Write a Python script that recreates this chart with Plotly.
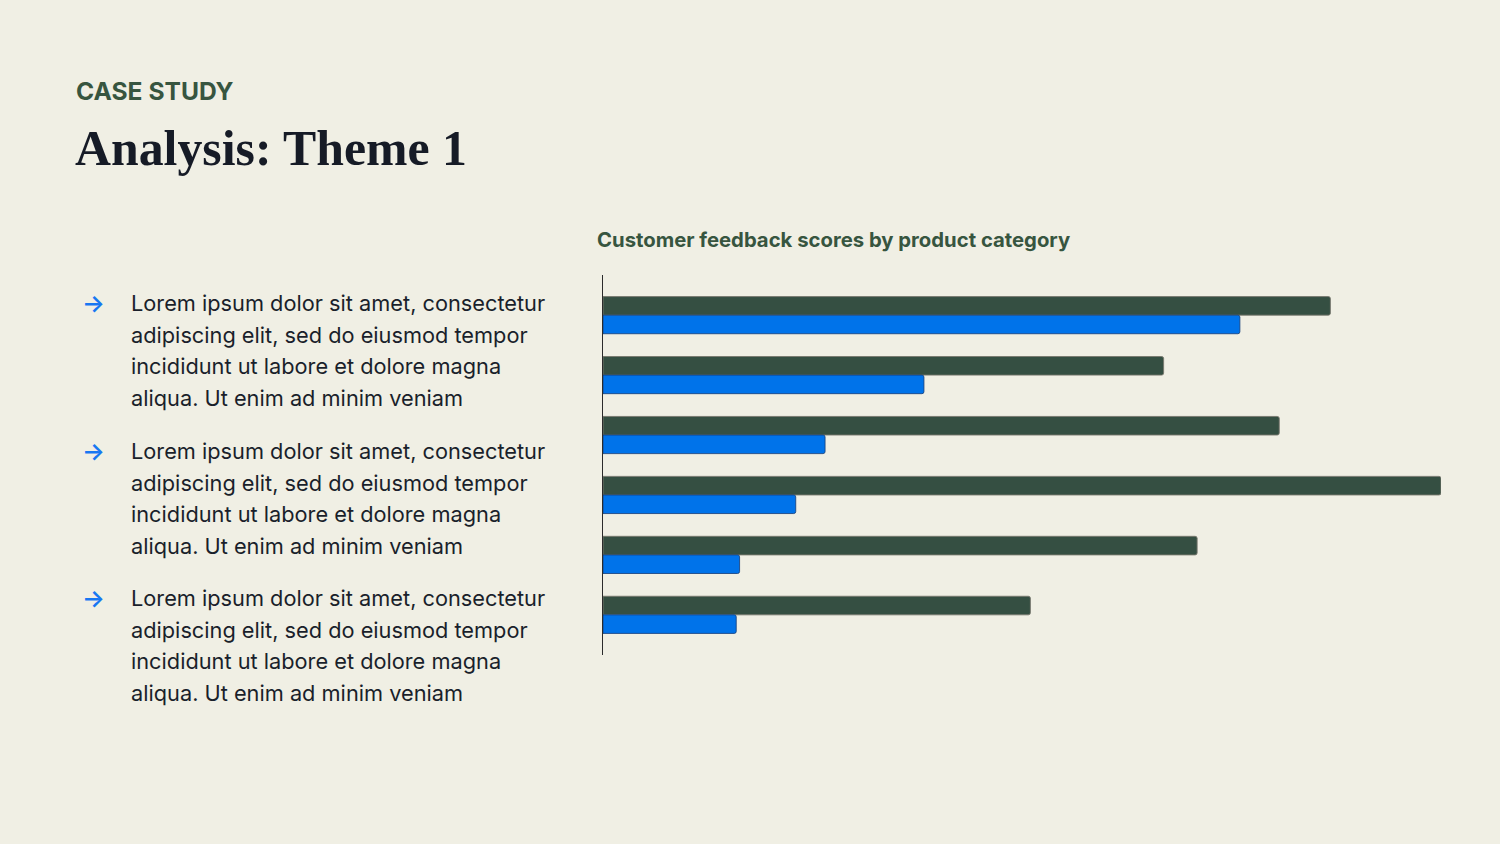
import plotly.graph_objects as go

categories = ["Category A", "Category B", "Category C", "Category D", "Category E", "Category F"]
series_dark = [86.8, 66.9, 80.7, 100.0, 70.9, 51.0]
series_blue = [76.0, 38.3, 26.5, 23.0, 16.3, 15.9]

eyebrow = "CASE STUDY"
title = "Analysis: Theme 1"
chart_title = "Customer feedback scores by product category"
bullet_lines = [
    "Lorem ipsum dolor sit amet, consectetur",
    "adipiscing elit, sed do eiusmod tempor",
    "incididunt ut labore et dolore magna",
    "aliqua. Ut enim ad minim veniam",
]

BG = "#F0EFE4"
DARK = "#354F42"
BLUE = "#0073EA"
W, H = 1500, 844

fig = go.Figure()
fig.add_trace(go.Bar(
    y=categories, x=series_dark, orientation="h", name="Series 1",
    marker=dict(color=DARK, line=dict(color="rgba(120,120,110,0.9)", width=1), cornerradius=2),
))
fig.add_trace(go.Bar(
    y=categories, x=series_blue, orientation="h", name="Series 2",
    marker=dict(color=BLUE, line=dict(color="rgba(20,60,120,0.8)", width=1), cornerradius=2),
))

def px_x(p):
    return p / W

def px_y(p):
    return 1 - p / H

def note(x, y, text, font):
    return dict(x=px_x(x), y=px_y(y), xref="paper", yref="paper", text=text, showarrow=False,
                xanchor="left", yanchor="middle", font=font)

annotations = []
annotations.append(note(74, 91, eyebrow, dict(family="Inter", size=24.6, color="#37553F", weight=700)))
annotations.append(note(73, 148, title, dict(family="Liberation Serif", size=49.8, color="#161B26", weight=700)))
annotations.append(note(595, 239, chart_title, dict(family="Inter", size=20.3, color="#37553F", weight=700)))

para_tops = [303, 451, 598]
line_step = 31.5
for top in para_tops:
    annotations.append(note(80, top, "→", dict(family="Inter", size=24, color="#1877F2", weight=600)))
    for i, line in enumerate(bullet_lines):
        annotations.append(note(129, top + i * line_step, line,
                                dict(family="Inter", size=21.75, color="#1A1F2B")))

fig.update_layout(
    width=W, height=H,
    margin=dict(l=0, r=0, t=0, b=0),
    paper_bgcolor=BG, plot_bgcolor=BG,
    showlegend=False,
    barmode="group", bargap=0.38, bargroupgap=0.0,
    annotations=annotations,
    xaxis=dict(domain=[603 / W, 1441 / W], range=[0, 100], showgrid=False, zeroline=False,
               showticklabels=False, ticks="", showline=False),
    yaxis=dict(domain=[px_y(655), px_y(275)], autorange=False, range=[5.67, -0.67],
               type="category", showgrid=False, zeroline=False, showticklabels=False, ticks="",
               showline=True, linecolor="#2B2B2B", linewidth=1),
)

fig.write_html("out.html")
